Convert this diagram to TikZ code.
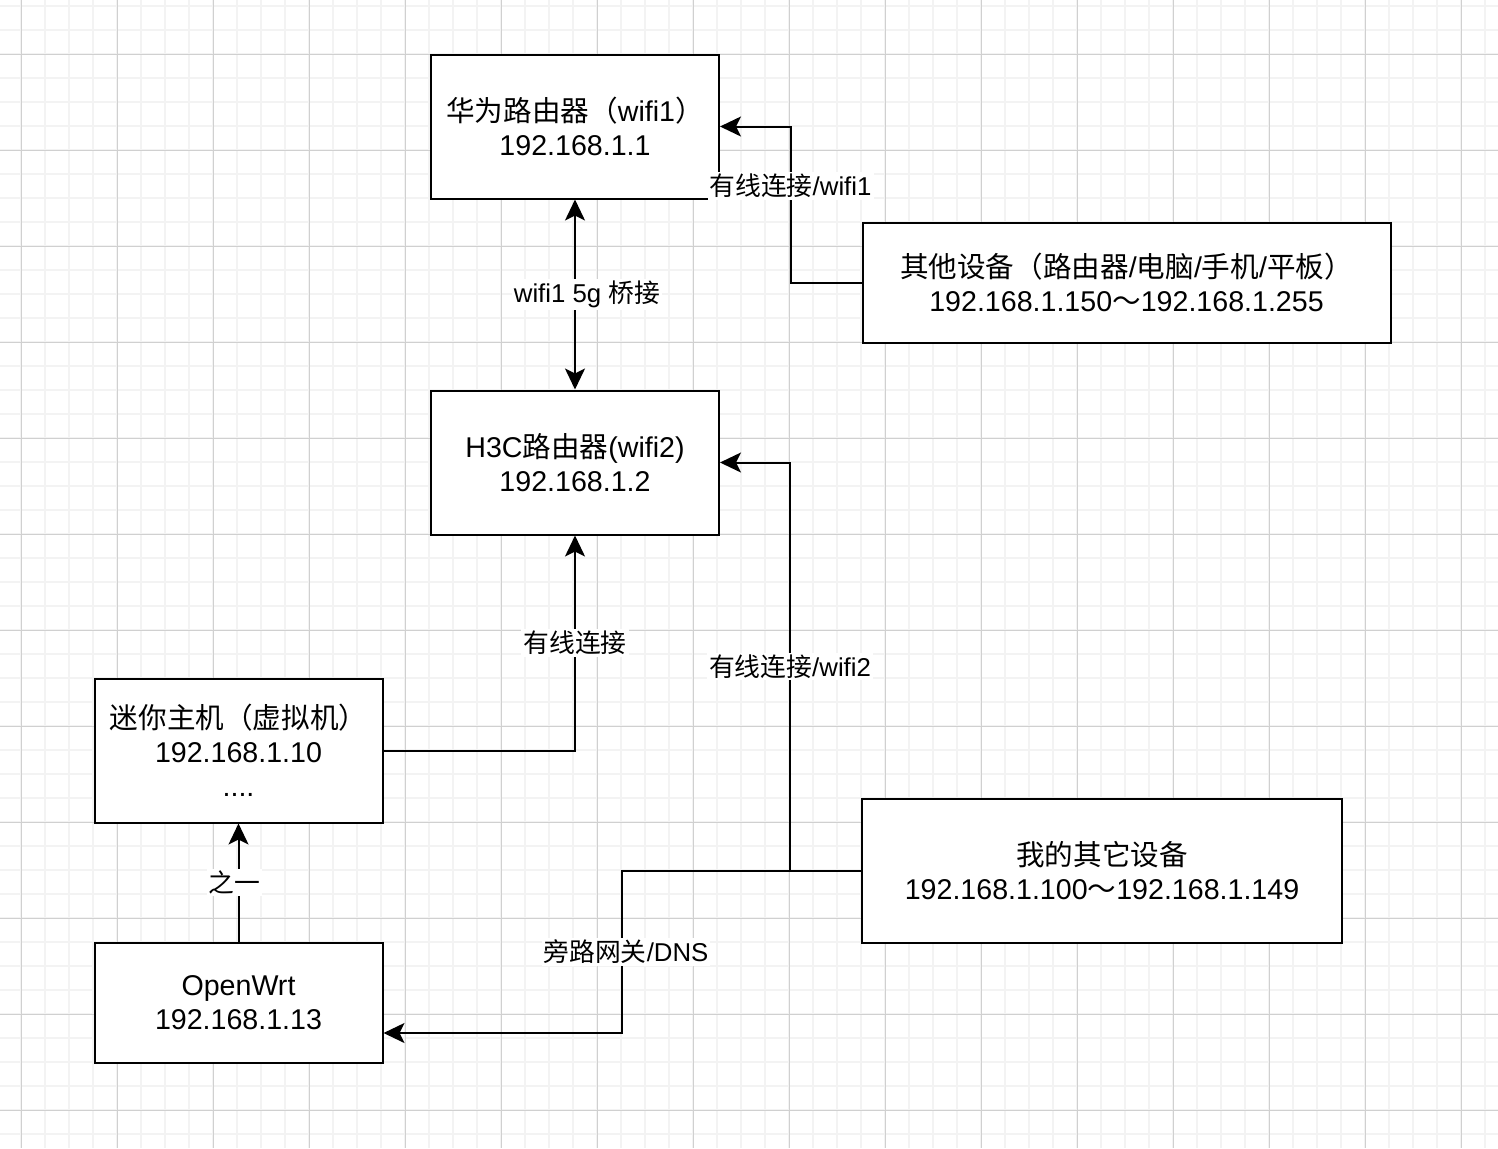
\documentclass[tikz,border=0pt]{standalone}
\usepackage{fontspec}
\setmainfont{Liberation Sans}
\newfontfamily\cjk{Noto Sans CJK SC}
\usepackage{tikz}
\usetikzlibrary{arrows.meta, calc}
\definecolor{gridminor}{RGB}{243,243,243}
\definecolor{gridmajor}{RGB}{208,208,208}
\newcommand{\zh}[1]{{\cjk #1}}
\tikzset{
  box/.style={rectangle, draw=black, fill=white, line width=1pt,
    align=center, inner sep=0pt, font=\fontsize{14.3}{17}\selectfont},
  lbl/.style={fill=white, inner sep=1pt, font=\fontsize{12.9}{15}\selectfont},
  arrow/.style={-{Stealth[length=10.5pt, width=10pt, inset=2.5pt]}, line width=1pt},
  twoway/.style={{Stealth[length=10.5pt, width=10pt, inset=2.5pt]}-{Stealth[length=10.5pt, width=10pt, inset=2.5pt]}, line width=1pt},
  minorline/.style={draw=gridminor, line width=1pt},
  majorline/.style={draw=gridmajor, line width=0.5pt}
}

\begin{document}
\begin{tikzpicture}[x=0.5pt, y=-0.5pt]
  % page and grid
  \useasboundingbox (0,0) rectangle (1498,1148);
  \fill[white] (0,0) rectangle (1498,1148);
  \foreach \x in {21.3,45.3,...,1498} \draw[minorline] (\x,0) -- (\x,1148);
  \foreach \y in {6,30,...,1148} \draw[minorline] (0,\y) -- (1498,\y);
  \foreach \x in {21.3,117.3,...,1498} \draw[majorline] (\x,0) -- (\x,1148);
  \foreach \y in {54,150,...,1148} \draw[majorline] (0,\y) -- (1498,\y);

  % routers
  \node[box, minimum width=144pt, minimum height=72pt] (huawei) at (575,126.5)
    {\zh{华为路由器（}wifi1\zh{）}\\192.168.1.1};
  \node[box, minimum width=144pt, minimum height=72pt] (h3c) at (575,462.5)
    {H3C\zh{路由器}(wifi2)\\192.168.1.2};

  % devices
  \node[box, minimum width=264pt, minimum height=60pt] (other) at (1126.5,282.5)
    {\zh{其他设备（路由器}/\zh{电脑}/\zh{手机}/\zh{平板）}\\192.168.1.150\zh{～}192.168.1.255};
  \node[box, minimum width=144pt, minimum height=72pt] (mini) at (238.5,750.5)
    {\zh{迷你主机（虚拟机）}\\192.168.1.10\\....};
  \node[box, minimum width=144pt, minimum height=60pt] (openwrt) at (238.5,1002.5)
    {OpenWrt\\192.168.1.13};
  \node[box, minimum width=240pt, minimum height=72pt] (mine) at (1102,870.5)
    {\zh{我的其它设备}\\192.168.1.100\zh{～}192.168.1.149};

  % links
  \draw[twoway] (huawei.south) -- node[lbl, xshift=6pt] {wifi1 5g \zh{桥接}} (h3c.north);
  \draw[arrow] (other.west) -- ++(-71,0) |- node[lbl, pos=0.31] {\zh{有线连接}/wifi1} (huawei.east);
  \draw[arrow] (mini.east) -| node[lbl, pos=0.75] {\zh{有线连接}} (h3c.south);
  \draw[arrow] (mine.west) -- ++(-71,0) |- node[lbl, pos=0.25] {\zh{有线连接}/wifi2} (h3c.east);
  \draw[arrow] (mine.west) -- ++(-239,0) |- node[lbl, pos=0.25, xshift=2pt] {\zh{旁路网关}/DNS}
    ($(openwrt.north east)!0.75!(openwrt.south east)$);
  \draw[arrow] (openwrt.north) -- node[lbl, xshift=-2pt] {\zh{之一}} (mini.south);
\end{tikzpicture}
\end{document}
